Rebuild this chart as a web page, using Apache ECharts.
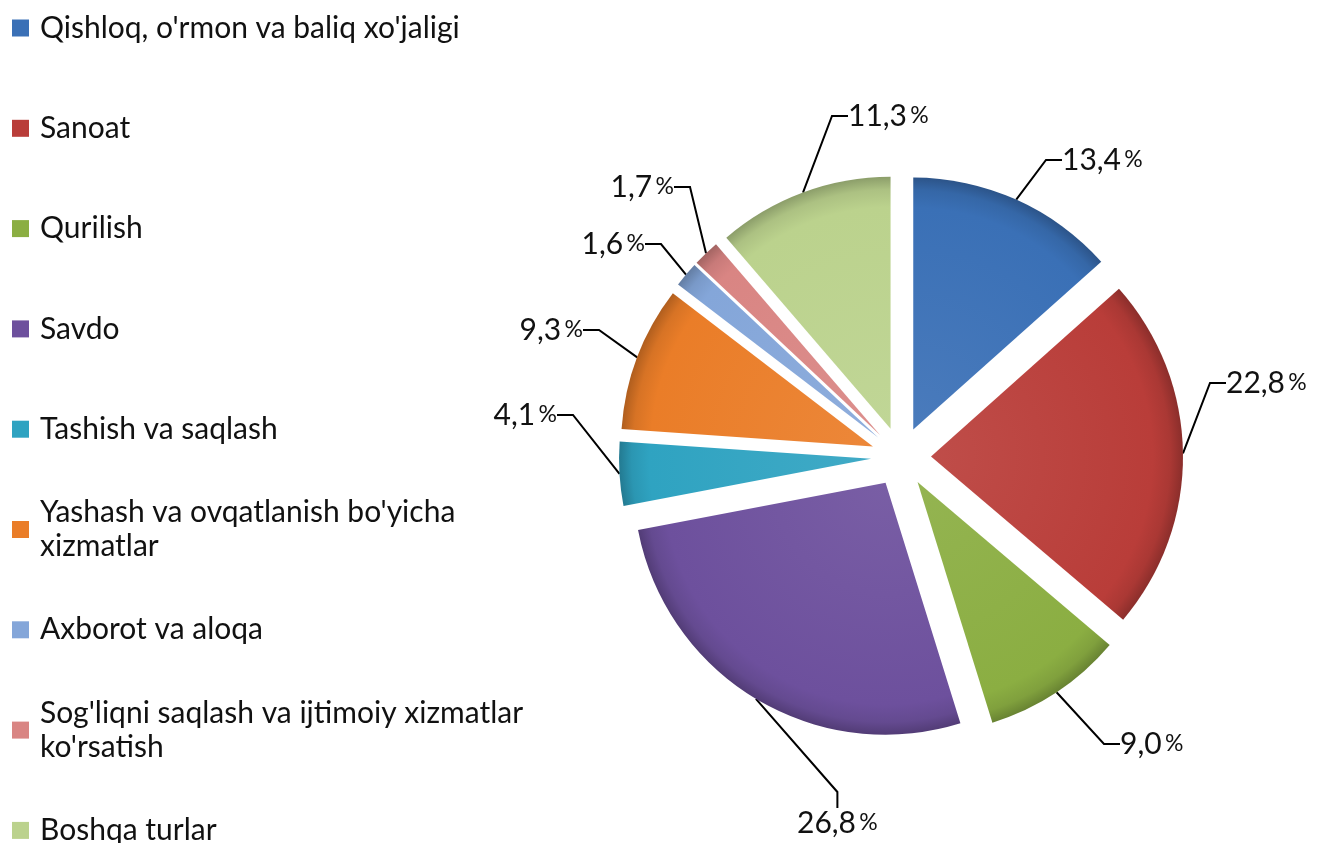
<!DOCTYPE html>
<html>
<head>
<meta charset="utf-8">
<script src="https://cdn.jsdelivr.net/npm/echarts@6/dist/echarts.min.js"></script>
<style>
  html, body { margin: 0; padding: 0; background: #fff; }
  #chart { width: 1323px; height: 843px; }
</style>
</head>
<body>
<div id="chart"></div>
<script>
// tarmoqlar nomi va ulushi (%)
var names = [
    "Qishloq, o'rmon va baliq xo'jaligi",
    "Sanoat",
    "Qurilish",
    "Savdo",
    "Tashish va saqlash",
    "Yashash va ovqatlanish bo'yicha xizmatlar",
    "Axborot va aloqa",
    "Sog'liqni saqlash va ijtimoiy xizmatlar ko'rsatish",
    "Boshqa turlar"
];
var values = [13.4, 22.8, 9.0, 26.8, 4.1, 9.3, 1.6, 1.7, 11.3];
// legendda ko'rinadigan matn (qator bo'linishi bilan)
var legendText = [
    "Qishloq, o'rmon va baliq xo'jaligi",
    "Sanoat",
    "Qurilish",
    "Savdo",
    "Tashish va saqlash",
    "Yashash va ovqatlanish bo'yicha\nxizmatlar",
    "Axborot va aloqa",
    "Sog'liqni saqlash va ijtimoiy xizmatlar\nko'rsatish",
    "Boshqa turlar"
];
var colors = ['#3a70b6', '#b93d39', '#8bae42', '#6d509d', '#2fa3c1', '#ea7d28', '#84a6d9', '#d98583', '#bbd28d'];

// label joylari (faqat layout)
var labelSpots = [
    [1062, 160, 'left'],
    [1226, 383, 'left'],
    [1120, 744, 'left'],
    [797, 823, 'left'],
    [557, 415, 'right'],
    [583, 330, 'right'],
    [645, 244, 'right'],
    [674, 187, 'right'],
    [848, 116, 'left']
];

var pieCenter = [901, 457];
var pieRadius = 252;
var explode = 30;
var FONT = 'Lato';

function shade(hex, k) {
    var r = parseInt(hex.substr(1, 2), 16), g = parseInt(hex.substr(3, 2), 16), b = parseInt(hex.substr(5, 2), 16);
    function f(c) {
        c = k < 0 ? c * (1 + k) : c + (255 - c) * k;
        return Math.max(0, Math.min(255, Math.round(c)));
    }
    return 'rgb(' + f(r) + ',' + f(g) + ',' + f(b) + ')';
}

function sliceFill(c, ctr) {
    return {
        type: 'radial',
        x: ctr[0], y: ctr[1], r: pieRadius,
        global: true,
        colorStops: [
            {offset: 0, color: shade(c, 0.08)},
            {offset: 0.88, color: c},
            {offset: 0.95, color: shade(c, -0.08)},
            {offset: 1, color: shade(c, -0.25)}
        ]
    };
}

var chart = echarts.init(document.getElementById('chart'));

//legend: har bir element alohida, bir xil qadam bilan
var legends = [];
var legendFirstY = 28, legendStep = 100.3, lineH = 34;
for (var i = 0; i < names.length; i++) {
    var lines = legendText[i].split('\n').length;
    var boxH = (2 * lines - 1) * lineH;
    legends.push({
        show: true,
        left: 12,
        top: legendFirstY + i * legendStep - boxH / 2,
        padding: 0,
        orient: 'vertical',
        icon: 'rect',
        itemWidth: 17,
        itemHeight: 17,
        selectedMode: false,
        formatter: (function (t) { return function () { return t; }; })(legendText[i]),
        textStyle: {
            fontFamily: FONT,
            fontSize: 30,
            color: '#111',
            lineHeight: lineH,
            padding: [lines > 1 ? lineH : 0, 0, 0, 6]
        },
        data: [{name: names[i], itemStyle: {color: colors[i]}}]
    });
}

// har bir bo'lak alohida seriya: markazi o'rta burchak bo'yicha surilgan (exploded pie)
var total = 0;
for (var t = 0; t < values.length; t++) total += values[t];

var series = [];
var cum = 0;
for (var k = 0; k < values.length; k++) {
    var mid = (cum + values[k] / 2) / total * Math.PI * 2;
    cum += values[k];
    var ctr = [pieCenter[0] + explode * Math.sin(mid), pieCenter[1] - explode * Math.cos(mid)];
    var data = [];
    for (var j = 0; j < values.length; j++) {
        var own = j === k;
        data.push({
            name: names[j],
            value: values[j],
            itemStyle: own ? {color: sliceFill(colors[j], ctr)} : {color: 'rgba(0,0,0,0)'},
            label: {show: own},
            labelLine: {show: own}
        });
    }
    series.push({
        type: 'pie',
        center: ctr,
        radius: [0, pieRadius],
        startAngle: 90,
        clockwise: true,
        selectedMode: false,
        silent: true,
        avoidLabelOverlap: false,
        emphasis: {disabled: true},
        label: {
            position: 'outside',
            color: '#000',
            formatter: function (p) {
                return '{v|' + p.value.toFixed(1).replace('.', ',') + '} {p|%}';
            },
            rich: {
                v: {fontFamily: FONT, fontSize: 30, color: '#111'},
                p: {fontFamily: FONT, fontSize: 23, color: '#111'}
            }
        },
        labelLine: {
            length: 20,
            length2: 16,
            lineStyle: {color: '#000', width: 2}
        },
        labelLayout: function (params) {
            var s = labelSpots[params.dataIndex];
            return {x: s[0], y: s[1], align: s[2], verticalAlign: 'middle'};
        },
        data: data
    });
}

var option = {
    backgroundColor: '#fff',
    animation: false,
    legend: legends,
    series: series
};
chart.setOption(option);
</script>
</body>
</html>
